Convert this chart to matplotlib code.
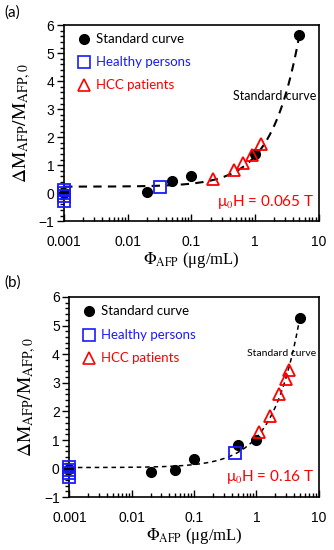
import numpy as np
import matplotlib.pyplot as plt
from matplotlib.ticker import MultipleLocator, LogLocator, NullFormatter, FixedLocator, FixedFormatter

plt.rcParams['mathtext.fontset'] = 'stix'

# panel (a), mu0H = 0.065 T
std_x_a = [0.001, 0.02, 0.05, 0.1, 1.0, 5.0]
std_y_a = [0.0, 0.03, 0.42, 0.6, 1.4, 5.65]
healthy_x_a = [0.001, 0.001, 0.001, 0.001, 0.032]
healthy_y_a = [0.1, 0.0, -0.12, -0.28, 0.22]
hcc_x_a = [0.22, 0.46, 0.65, 0.9, 1.25]
hcc_y_a = [0.5, 0.82, 1.08, 1.36, 1.75]

# panel (b), mu0H = 0.16 T
std_x_b = [0.001, 0.02, 0.05, 0.1, 0.5, 1.0, 5.0]
std_y_b = [0.0, -0.13, -0.05, 0.34, 0.82, 1.0, 5.27]
healthy_x_b = [0.001, 0.001, 0.001, 0.001, 0.45]
healthy_y_b = [0.05, -0.05, -0.17, -0.28, 0.53]
hcc_x_b = [1.1, 1.65, 2.35, 2.95, 3.3]
hcc_y_b = [1.27, 1.85, 2.6, 3.15, 3.45]

xticks = [0.001, 0.01, 0.1, 1, 10]
xticklabels = ['0.001', '0.01', '0.1', '1', '10']

fig = plt.figure(figsize=(3.34, 5.5), dpi=100)
tickfont = 'Liberation Sans'


def panel(rect, sx, sy, hx, hy, px, py, field, dash, lw, note_xy, note_size, label, label_y):
    ax = fig.add_axes(rect)
    ax.set_xscale('log')
    ax.set_xlim(0.001, 10)
    ax.set_ylim(-1, 6)

    # linear trend through the standard points
    b, a = np.polyfit(sx, sy, 1)
    xf = np.logspace(-3, np.log10(5), 200)
    ax.plot(xf, a + b * xf, color='black', ls=(0, dash), lw=lw, zorder=1)

    ax.plot(sx, sy, 'o', color='black', ms=7, zorder=2, clip_on=False)
    ax.plot(hx, hy, 's', mfc='none', mec='#1a1aff', mew=1.3, ms=8, zorder=3, clip_on=False)
    ax.plot(px, py, '^', mfc='none', mec='#ff0000', mew=1.3, ms=9, zorder=3, clip_on=False)

    ax.xaxis.set_major_locator(FixedLocator(xticks))
    ax.xaxis.set_major_formatter(FixedFormatter(xticklabels))
    ax.xaxis.set_minor_locator(LogLocator(base=10, subs=np.arange(2, 10)))
    ax.xaxis.set_minor_formatter(NullFormatter())
    ax.yaxis.set_major_locator(MultipleLocator(1))
    ax.yaxis.set_minor_locator(MultipleLocator(0.2))
    ax.tick_params(axis='x', which='major', direction='in', length=5, width=1, pad=10)
    ax.tick_params(axis='x', which='minor', direction='in', length=3, width=1)
    ax.tick_params(axis='y', which='major', direction='out', length=5, width=1, pad=2)
    ax.tick_params(axis='y', which='minor', direction='out', length=3, width=1)
    for t in ax.get_xticklabels() + ax.get_yticklabels():
        t.set_fontfamily(tickfont)
        t.set_fontsize(10)
    for s in ax.spines.values():
        s.set_linewidth(1.2)

    ax.set_xlabel(r'$\Phi_{\rm AFP}$ (μg/mL)', fontfamily='Liberation Serif', fontsize=12, labelpad=1)
    ax.set_ylabel(r'$\Delta\mathrm{M}_{\rm AFP}/\mathrm{M}_{\rm AFP,0}$', fontsize=14, labelpad=4)

    # legend drawn by hand
    rows = [('o', 'black', 'black', 'Standard curve'),
            ('s', '#1a1aff', '#1a1aff', 'Healthy persons'),
            ('^', '#ff0000', '#ff0000', 'HCC patients')]
    for i, (m, mc, tc, txt) in enumerate(rows):
        yy = 0.93 - i * 0.118
        if m == 'o':
            ax.plot([0.08], [yy], m, color=mc, ms=7, transform=ax.transAxes, clip_on=False)
        else:
            ax.plot([0.08], [yy], m, mfc='none', mec=mc, mew=1.2, ms=9, transform=ax.transAxes, clip_on=False)
        ax.text(0.125, yy, txt, color=tc, fontsize=9.5, fontfamily='Lato', va='center', transform=ax.transAxes)

    ax.text(note_xy[0], note_xy[1], 'Standard curve', fontsize=note_size, fontfamily='Lato',
            ha='right', va='center', transform=ax.transAxes)
    ax.text(0.985, 0.1, 'μ$_0$H = ' + field, color='#ff0000', fontsize=11, fontfamily='Lato',
            ha='right', va='center', transform=ax.transAxes)
    fig.text(0.012, label_y, label, fontsize=11, fontfamily='Lato', va='center')
    return ax


panel([0.192, 0.598, 0.762, 0.356], std_x_a, std_y_a, healthy_x_a, healthy_y_a, hcc_x_a, hcc_y_a,
      '0.065 T', (4, 3), 1.5, (0.99, 0.64), 9, '(a)', 0.977)
panel([0.208, 0.096, 0.746, 0.364], std_x_b, std_y_b, healthy_x_b, healthy_y_b, hcc_x_b, hcc_y_b,
      '0.16 T', (3, 2.5), 1.1, (0.99, 0.72), 7.5, '(b)', 0.486)

fig.savefig('out.png', dpi=100)
